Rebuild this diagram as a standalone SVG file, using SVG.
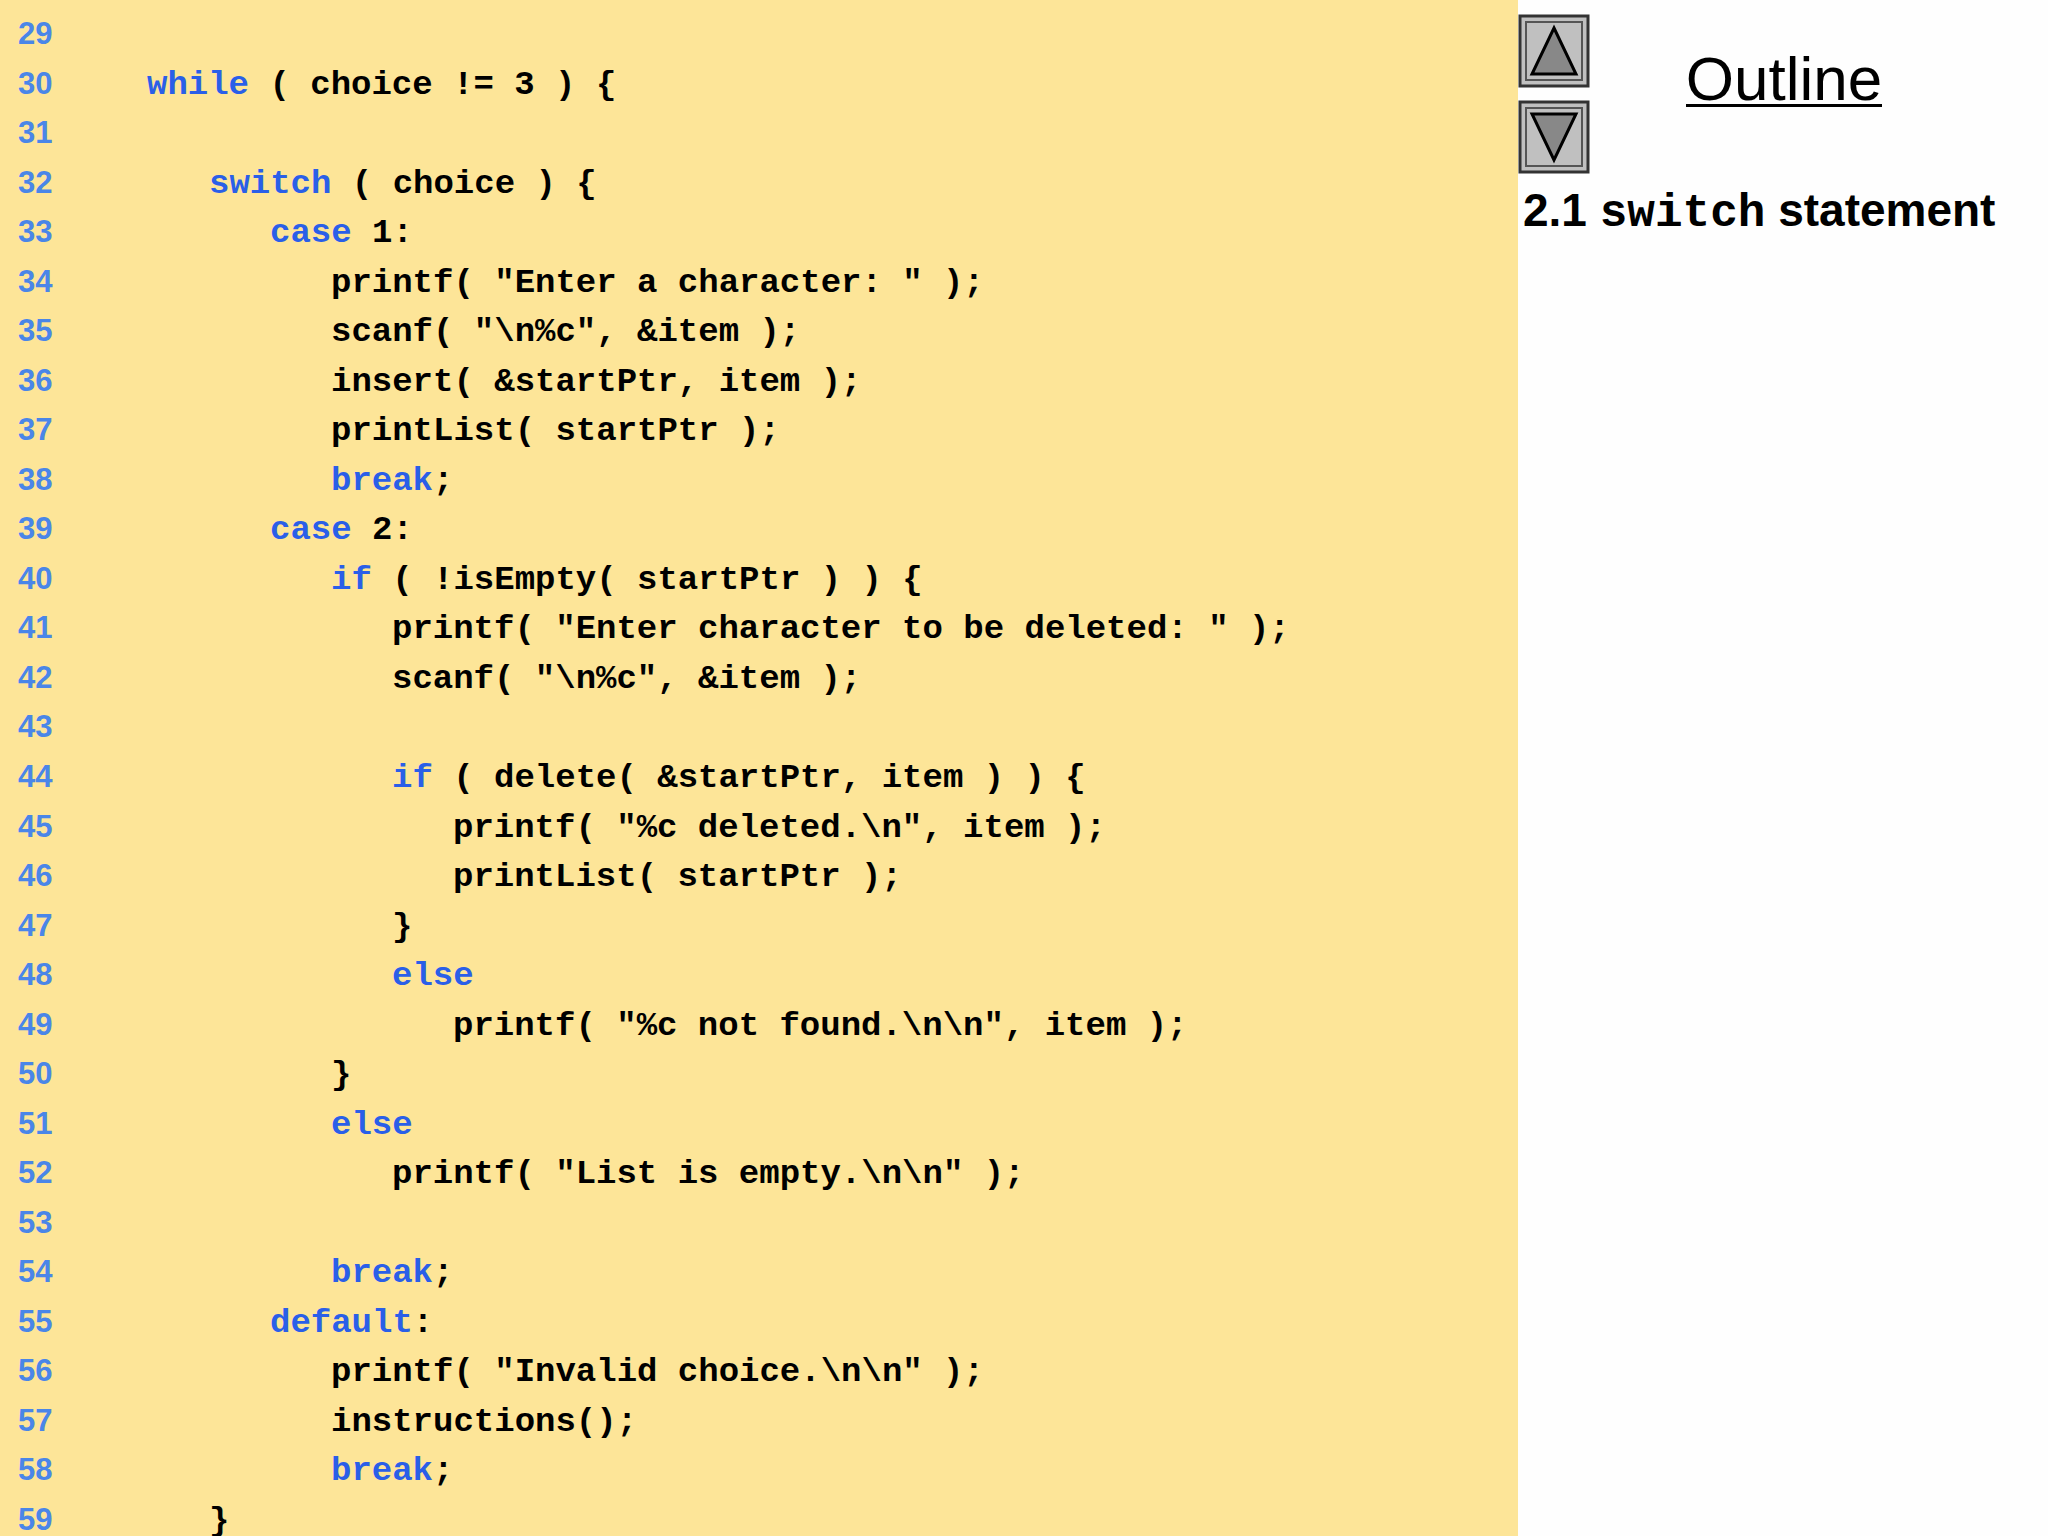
<svg xmlns="http://www.w3.org/2000/svg" width="2048" height="1536" viewBox="0 0 2048 1536">
<style>
.ln{font-family:"Liberation Sans",Arial,sans-serif;font-weight:bold;font-size:31px;fill:#4a86e8}
.c{font-family:"Liberation Mono","Courier New",monospace;font-weight:bold;font-size:34px;fill:#000;white-space:pre}
.k{fill:#2a5fe8}
.btn{fill:#c0c0c0;stroke:#333;stroke-width:3}
.tri{fill:#888;stroke:#000;stroke-width:3}
</style>
<rect x="0" y="0" width="2048" height="1536" fill="#fefefe"/>
<rect x="0" y="0" width="1518" height="1536" fill="#fde598"/>
<g id="nav">
<rect class="btn" x="1520" y="16" width="68" height="70"/>
<rect x="1526" y="22" width="56" height="58" fill="none" stroke="#555" stroke-width="2"/>
<polygon class="tri" points="1554,28 1576,74 1532,74"/>
<rect class="btn" x="1520" y="102" width="68" height="70"/>
<rect x="1526" y="108" width="56" height="58" fill="none" stroke="#555" stroke-width="2"/>
<polygon class="tri" points="1532,114 1576,114 1554,160"/>
</g>
<g id="title">
<text x="1784" y="100" text-anchor="middle" font-family="'Liberation Sans',Arial,sans-serif" font-size="62" fill="#000">Outline</text>
<rect x="1686" y="104" width="196" height="3" fill="#000"/>
<text x="1523" y="226" font-family="'Liberation Sans',Arial,sans-serif" font-weight="bold" font-size="46" fill="#000">2.1 <tspan font-family="'Liberation Mono',monospace">switch</tspan> statement</text>
</g>
<g id="linenums" class="ln">
<text x="18" y="44">29</text><text x="18" y="94">30</text><text x="18" y="143">31</text><text x="18" y="193">32</text><text x="18" y="242">33</text><text x="18" y="292">34</text><text x="18" y="341">35</text><text x="18" y="391">36</text><text x="18" y="440">37</text><text x="18" y="490">38</text><text x="18" y="539">39</text><text x="18" y="589">40</text><text x="18" y="638">41</text><text x="18" y="688">42</text><text x="18" y="737">43</text><text x="18" y="787">44</text><text x="18" y="837">45</text><text x="18" y="886">46</text><text x="18" y="936">47</text><text x="18" y="985">48</text><text x="18" y="1035">49</text><text x="18" y="1084">50</text><text x="18" y="1134">51</text><text x="18" y="1183">52</text><text x="18" y="1233">53</text><text x="18" y="1282">54</text><text x="18" y="1332">55</text><text x="18" y="1381">56</text><text x="18" y="1431">57</text><text x="18" y="1480">58</text><text x="18" y="1530">59</text>
</g>
<g id="code" class="c" xml:space="preserve">
<text x="147" y="94"><tspan class="k">while</tspan> ( choice != 3 ) {</text>
<text x="209" y="193"><tspan class="k">switch</tspan> ( choice ) {</text>
<text x="270" y="242"><tspan class="k">case</tspan> 1:</text>
<text x="331" y="292">printf( "Enter a character: " );</text>
<text x="331" y="341">scanf( "\n%c", &amp;item );</text>
<text x="331" y="391">insert( &amp;startPtr, item );</text>
<text x="331" y="440">printList( startPtr );</text>
<text x="331" y="490"><tspan class="k">break</tspan>;</text>
<text x="270" y="539"><tspan class="k">case</tspan> 2:</text>
<text x="331" y="589"><tspan class="k">if</tspan> ( !isEmpty( startPtr ) ) {</text>
<text x="392" y="638">printf( "Enter character to be deleted: " );</text>
<text x="392" y="688">scanf( "\n%c", &amp;item );</text>
<text x="392" y="787"><tspan class="k">if</tspan> ( delete( &amp;startPtr, item ) ) {</text>
<text x="453" y="837">printf( "%c deleted.\n", item );</text>
<text x="453" y="886">printList( startPtr );</text>
<text x="392" y="936">}</text>
<text x="392" y="985"><tspan class="k">else</tspan></text>
<text x="453" y="1035">printf( "%c not found.\n\n", item );</text>
<text x="331" y="1084">}</text>
<text x="331" y="1134"><tspan class="k">else</tspan></text>
<text x="392" y="1183">printf( "List is empty.\n\n" );</text>
<text x="331" y="1282"><tspan class="k">break</tspan>;</text>
<text x="270" y="1332"><tspan class="k">default</tspan>:</text>
<text x="331" y="1381">printf( "Invalid choice.\n\n" );</text>
<text x="331" y="1431">instructions();</text>
<text x="331" y="1480"><tspan class="k">break</tspan>;</text>
<text x="209" y="1530">}</text>
</g>
</svg>
